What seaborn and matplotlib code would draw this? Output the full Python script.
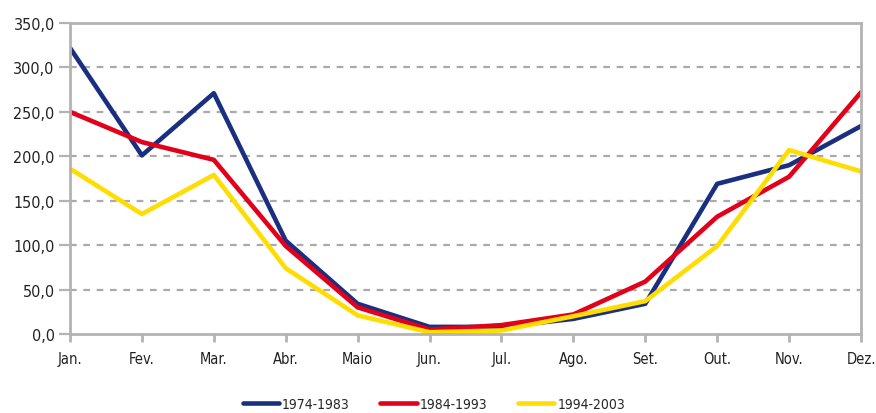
import matplotlib
matplotlib.use("Agg")
import matplotlib.pyplot as plt
import seaborn as sns
import pandas as pd

months = ["Jan.", "Fev.", "Mar.", "Abr.", "Maio", "Jun.", "Jul.", "Ago.", "Set.", "Out.", "Nov.", "Dez."]
s1974 = [322, 201, 271, 105, 34, 8, 8, 17, 34, 169, 190, 234]
s1984 = [250, 216, 196, 99, 30, 5, 10, 22, 59, 132, 177, 272]
s1994 = [186, 135, 179, 74, 21, 2, 4, 20, 37, 99, 207, 183]
series_names = ["1974-1983", "1984-1993", "1994-2003"]
yticks = [0, 50, 100, 150, 200, 250, 300, 350]

colors = ["#1b2f80", "#e2001a", "#ffdd00"]

rows = []
for name, vals in zip(series_names, [s1974, s1984, s1994]):
    for i, v in enumerate(vals):
        rows.append({"idx": i, "value": v, "serie": name})
df = pd.DataFrame(rows)

sns.set_theme(style="white")
plt.rcParams["font.family"] = ["DejaVu Sans"]
plt.rcParams["font.stretch"] = "condensed"

fig = plt.figure(figsize=(8.76, 4.14), dpi=100)
ax = fig.add_axes([70/876, 1 - 335/414, 791/876, 311/414])

sns.lineplot(data=df, x="idx", y="value", hue="serie", palette=colors,
             linewidth=3.3, ax=ax, legend=True)

ax.set_xlim(0, 11)
ax.set_ylim(0, 350)
ax.set_xticks(range(len(months)))
ax.set_xticklabels(months, fontsize=10.5, color="#222222")
ax.set_yticks(yticks)
ax.set_yticklabels([f"{v:.1f}".replace(".", ",") for v in yticks], fontsize=11.5, color="#222222")
ax.set_xlabel("")
ax.set_ylabel("")

for y in yticks[1:-1]:
    ax.axhline(y, color="#aaaaaa", linestyle=(0, (3, 3)), linewidth=1.6, zorder=0)

for sp in ax.spines.values():
    sp.set_color("#b3b3b3")
    sp.set_linewidth(2)
    sp.set_visible(True)

ax.tick_params(axis="x", direction="out", length=6, width=2, color="#b3b3b3", pad=6, bottom=True)
ax.tick_params(axis="y", direction="out", length=8, width=1.6, color="#b3b3b3", pad=3, left=True)

handles, labels = ax.get_legend_handles_labels()
ax.legend(handles, labels, loc="center", bbox_to_anchor=(434/876, 1 - 405/414),
          bbox_transform=fig.transFigure,
          ncol=3, frameon=False, fontsize=10, handlelength=2.6, columnspacing=2.2,
          handletextpad=0.25, borderaxespad=0, borderpad=0)

fig.savefig("out.png", dpi=100)
